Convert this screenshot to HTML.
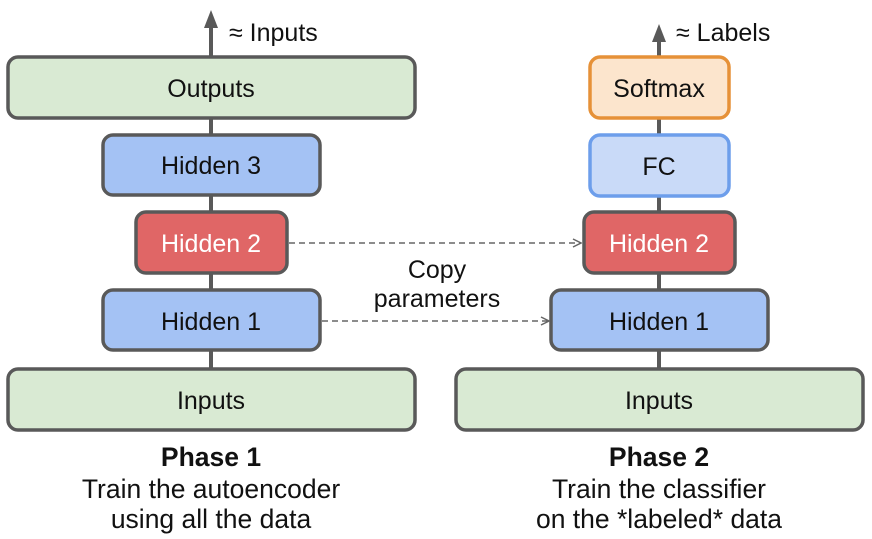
<!DOCTYPE html>
<html><head><style>
body{margin:0;background:#fff;width:872px;height:534px;overflow:hidden}
</style></head><body>
<svg width="872" height="534" xmlns="http://www.w3.org/2000/svg" font-family="Liberation Sans, sans-serif">
<defs>
<marker id="ah" markerWidth="10" markerHeight="10" refX="9" refY="5" orient="auto" markerUnits="userSpaceOnUse"><path d="M1,1 L9,5 L1,9" fill="none" stroke="#666" stroke-width="1.5"/></marker>
</defs>
<g stroke="#595959" stroke-width="4">
<line x1="211" y1="24" x2="211" y2="370"/>
<line x1="659" y1="40" x2="659" y2="370"/>
</g>
<path d="M204,28 L211,10 L218,28 Z" fill="#595959"/>
<path d="M652,42 L659,24 L666,42 Z" fill="#595959"/>
<g stroke-width="3.5">
<rect x="8" y="57" width="407" height="61" rx="10" fill="#d9ead3" stroke="#595959"/>
<rect x="103" y="135" width="217" height="60" rx="10" fill="#a4c2f4" stroke="#595959"/>
<rect x="136" y="212" width="151" height="61" rx="10" fill="#e06666" stroke="#595959"/>
<rect x="103" y="290" width="217" height="60" rx="10" fill="#a4c2f4" stroke="#595959"/>
<rect x="8" y="369" width="407" height="61" rx="10" fill="#d9ead3" stroke="#595959"/>
<rect x="590" y="57" width="139" height="61" rx="10" fill="#fce5cd" stroke="#e69138"/>
<rect x="590" y="135" width="139" height="61" rx="10" fill="#c9daf8" stroke="#6d9eeb"/>
<rect x="584" y="212" width="151" height="61" rx="10" fill="#e06666" stroke="#595959"/>
<rect x="551" y="290" width="217" height="60" rx="10" fill="#a4c2f4" stroke="#595959"/>
<rect x="456" y="369" width="407" height="61" rx="10" fill="#d9ead3" stroke="#595959"/>
</g>
<g stroke="#666" stroke-width="1.5" stroke-dasharray="6,4" fill="none">
<line x1="289" y1="243" x2="581" y2="243" marker-end="url(#ah)"/>
<line x1="322" y1="321" x2="549" y2="321" marker-end="url(#ah)"/>
</g>
<g font-size="25" text-anchor="middle" fill="#111">
<text x="229" y="41" text-anchor="start">≈ Inputs</text>
<text x="676" y="41" text-anchor="start">≈ Labels</text>
<text x="211" y="97">Outputs</text>
<text x="211" y="174">Hidden 3</text>
<text x="211" y="252" fill="#fff">Hidden 2</text>
<text x="211" y="330">Hidden 1</text>
<text x="211" y="409">Inputs</text>
<text x="659" y="97">Softmax</text>
<text x="659" y="175">FC</text>
<text x="659" y="252" fill="#fff">Hidden 2</text>
<text x="659" y="330">Hidden 1</text>
<text x="659" y="409">Inputs</text>
<text x="437" y="278">Copy</text>
<text x="437" y="307">parameters</text>
</g>
<g font-size="26.5" text-anchor="middle" fill="#111">
<text x="211" y="466" font-weight="bold">Phase 1</text>
<text x="211" y="498">Train the autoencoder</text>
<text x="211" y="528">using all the data</text>
<text x="659" y="466" font-weight="bold">Phase 2</text>
<text x="659" y="498">Train the classifier</text>
<text x="659" y="528">on the *labeled* data</text>
</g>
</svg>
</body></html>
